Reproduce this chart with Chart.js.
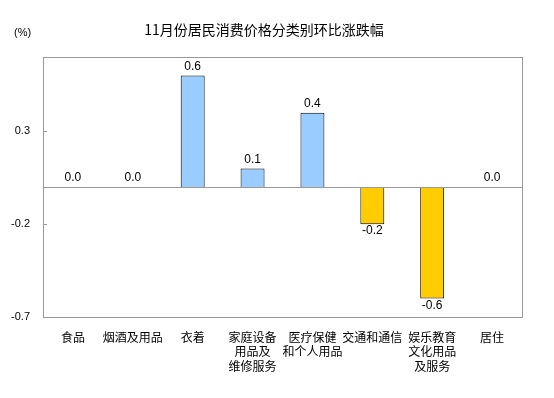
<!DOCTYPE html>
<html>
<head>
<meta charset="utf-8">
<script src="https://cdn.jsdelivr.net/npm/chart.js@4"></script>
<style>
  html, body { margin: 0; padding: 0; background: #fff; }
  #wrap { width: 554px; height: 398px; }
</style>
</head>
<body>
<div id="wrap"><canvas id="cpiChart" width="554" height="398"></canvas></div>
<script>
// categories (multi-line labels as in the original)
var categories = [
  ["食品"],
  ["烟酒及用品"],
  ["衣着"],
  ["家庭设备", "用品及", "维修服务"],
  ["医疗保健", "和个人用品"],
  ["交通和通信"],
  ["娱乐教育", "文化用品", "及服务"],
  ["居住"]
];
var changes = [0.0, 0.0, 0.6, 0.1, 0.4, -0.2, -0.6, 0.0];
var yTicks = [-0.7, -0.2, 0.3];

var titleText = "11月份居民消费价格分类别环比涨跌幅";
var unitText = "(%)";

var axisGray = "#999999";
var numFont = "Arial, 'Liberation Sans', sans-serif";
var cjkFont = "'Noto Sans CJK SC', sans-serif";

var ctx = document.getElementById("cpiChart").getContext("2d");

// zero line drawn over the bar bases
var zeroLinePlugin = {
  id: "zeroLine",
  afterDatasetsDraw: function (chart) {
    var c = chart.ctx;
    var area = chart.chartArea;
    var py = Math.round(chart.scales.y.getPixelForValue(0)) + 0.5;
    c.save();
    c.strokeStyle = axisGray;
    c.lineWidth = 1;
    c.beginPath();
    c.moveTo(area.left, py);
    c.lineTo(area.right, py);
    c.stroke();
    c.restore();
  }
};

// title, unit, frame, inner tick marks and value labels
var decorPlugin = {
  id: "decor",
  afterDraw: function (chart) {
    var c = chart.ctx;
    var area = chart.chartArea;
    var y = chart.scales.y;
    c.save();

    // frame around the plot
    c.strokeStyle = axisGray;
    c.lineWidth = 1;
    c.strokeRect(Math.round(area.left) + 0.5, Math.round(area.top) + 0.5,
      Math.round(area.right - area.left), Math.round(area.bottom - area.top));

    // small tick marks inside the left axis
    yTicks.forEach(function (t) {
      var py = Math.round(y.getPixelForValue(t)) + 0.5;
      c.beginPath();
      c.moveTo(area.left, py);
      c.lineTo(area.left + 4, py);
      c.stroke();
    });

    // title and unit
    c.fillStyle = "#000";
    c.textAlign = "center";
    c.textBaseline = "middle";
    c.font = "14px " + cjkFont;
    c.fillText(titleText, 264, 30);
    c.font = "11px " + numFont;
    c.textAlign = "left";
    c.fillText(unitText, 14, 33);

    // value labels
    var meta = chart.getDatasetMeta(0);
    c.font = "12px " + numFont;
    c.textAlign = "center";
    meta.data.forEach(function (bar, i) {
      var v = changes[i];
      var txt = v.toFixed(1);
      if (v < 0) {
        c.textBaseline = "top";
        c.fillText(txt, bar.x, bar.y + 1);
      } else {
        c.textBaseline = "bottom";
        c.fillText(txt, bar.x, bar.y - 3);
      }
    });
    c.restore();
  }
};

var myChart = new Chart(ctx, {
  type: "bar",
  data: {
    labels: categories,
    datasets: [
      {
        data: changes,
        backgroundColor: changes.map(function (v) { return v < 0 ? "#FFCC00" : "#99CCFF"; }),
        borderColor: "#000000",
        borderWidth: 1,
        borderSkipped: "start",
        categoryPercentage: 1.0,
        barPercentage: 0.4
      }
    ]
  },
  options: {
    responsive: false,
    animation: false,
    layout: { padding: { top: 57, right: 32, bottom: 0, left: 0 } },
    plugins: {
      legend: { display: false },
      tooltip: { enabled: false }
    },
    scales: {
      x: {
        grid: { display: false },
        border: { display: false },
        ticks: {
          color: "#000",
          font: { family: cjkFont, size: 12 },
          padding: 5,
          maxRotation: 0,
          autoSkip: false
        },
        afterFit: function (scale) { scale.height = 81; }
      },
      y: {
        min: -0.7,
        max: 0.7,
        afterBuildTicks: function (scale) {
          scale.ticks = yTicks.map(function (v) { return { value: v }; });
        },
        grid: { display: false, drawTicks: false },
        border: { display: false },
        ticks: {
          color: "#000",
          font: { family: numFont, size: 11 },
          padding: 13,
          callback: function (v) { return v.toFixed(1); }
        },
        afterFit: function (scale) { scale.width = 43; }
      }
    }
  },
  plugins: [zeroLinePlugin, decorPlugin]
});
</script>
</body>
</html>
